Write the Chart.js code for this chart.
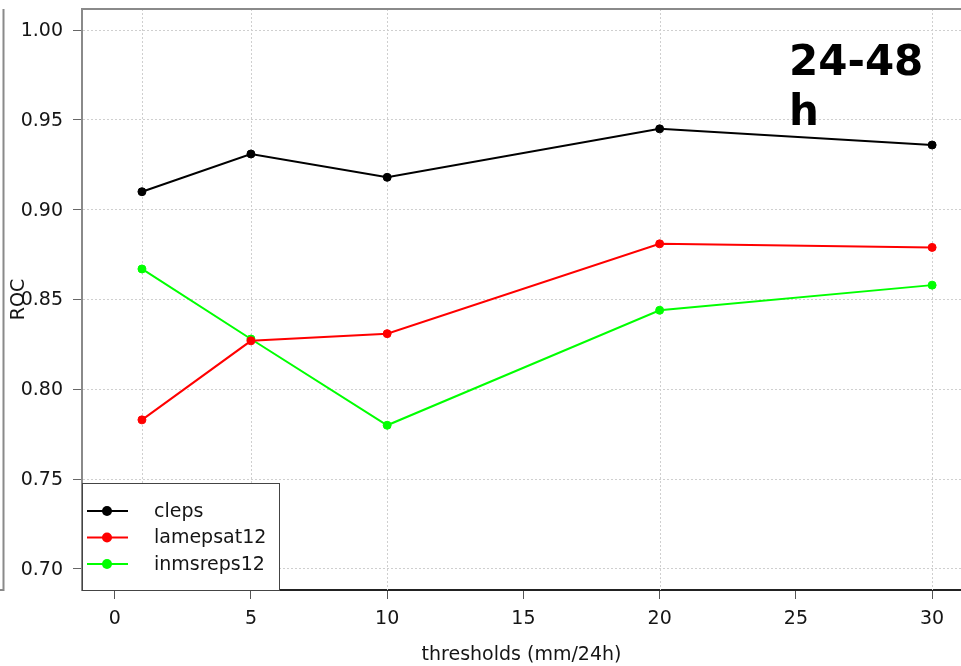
<!DOCTYPE html>
<html>
<head>
<meta charset="utf-8">
<title>ROC 24-48 h</title>
<script src="https://cdn.jsdelivr.net/npm/chart.js@4.4.1/dist/chart.umd.min.js"></script>
<style>
  html, body { margin: 0; padding: 0; background: #ffffff; overflow: hidden; }
  canvas { display: block; }
</style>
</head>
<body>
<canvas id="roc" width="961" height="666"></canvas>
<script>
// Precipitation thresholds (mm/24h) and ROC area per ensemble system
const thresholds = [1, 5, 10, 20, 30];
const cleps      = [0.910, 0.931, 0.918, 0.945, 0.936];
const lamepsat12 = [0.783, 0.827, 0.831, 0.881, 0.879];
const inmsreps12 = [0.867, 0.828, 0.780, 0.844, 0.858];

const seriesNames  = ['cleps', 'lamepsat12', 'inmsreps12'];
const seriesColors = ['#000000', '#ff0000', '#00ff00'];

const xTicks = [0, 5, 10, 15, 20, 25, 30];
const yTicks = [0.70, 0.75, 0.80, 0.85, 0.90, 0.95, 1.00];

const xTitle = 'thresholds (mm/24h)';
const yTitle = 'ROC';
const panelLabel = ['24-48', 'h'];

const FONT = 'DejaVu Sans';

const seriesValues = [cleps, lamepsat12, inmsreps12];
const datasets = seriesValues.map((vals, i) => ({
  label: seriesNames[i],
  data: thresholds.map((t, j) => ({ x: t, y: vals[j] })),
  borderColor: seriesColors[i],
  backgroundColor: seriesColors[i],
  pointBackgroundColor: seriesColors[i],
  pointBorderColor: seriesColors[i],
  borderWidth: 2,
  pointRadius: 4,
  pointBorderWidth: 1,
  tension: 0,
  fill: false
}));

// Dotted vertical guides at each threshold, plus the plot frame
const frameAndGuides = {
  id: 'frameAndGuides',
  beforeDatasetsDraw(chart) {
    const { ctx, chartArea: a, scales: { x } } = chart;
    ctx.save();
    ctx.strokeStyle = '#cfcfcf';
    ctx.lineWidth = 1;
    ctx.setLineDash([2, 2]);
    thresholds.forEach(t => {
      const px = Math.round(x.getPixelForValue(t)) + 0.5;
      ctx.beginPath();
      ctx.moveTo(px, a.top);
      ctx.lineTo(px, a.bottom);
      ctx.stroke();
    });
    ctx.setLineDash([]);
    // top edge of the box
    ctx.strokeStyle = '#8a8a8a';
    ctx.lineWidth = 2;
    ctx.beginPath();
    ctx.moveTo(a.left, a.top);
    ctx.lineTo(a.right, a.top);
    ctx.stroke();
    // edge of the neighbouring panel on the far left
    ctx.beginPath();
    ctx.moveTo(3.5, a.top);
    ctx.lineTo(3.5, a.bottom);
    ctx.lineTo(0, a.bottom);
    ctx.stroke();
    ctx.restore();
  }
};

// Legend box in the lower-left corner and the lead-time label
const boxLegend = {
  id: 'boxLegend',
  afterDraw(chart) {
    const { ctx, chartArea: a } = chart;
    ctx.save();
    const left = a.left, right = 279, top = 483, bottom = a.bottom;
    ctx.fillStyle = '#ffffff';
    ctx.fillRect(left, top, right - left, bottom - top);
    ctx.strokeStyle = '#444444';
    ctx.lineWidth = 1;
    ctx.strokeRect(left + 0.5, top + 0.5, right - left, bottom - top);

    const rows = [511, 537.5, 564];
    chart.data.datasets.forEach((ds, i) => {
      const y = rows[i];
      ctx.strokeStyle = ds.borderColor;
      ctx.lineWidth = 2;
      ctx.beginPath();
      ctx.moveTo(87, y);
      ctx.lineTo(128, y);
      ctx.stroke();
      ctx.fillStyle = ds.borderColor;
      ctx.beginPath();
      ctx.arc(107, y, 5, 0, Math.PI * 2);
      ctx.fill();
      ctx.fillStyle = '#151515';
      ctx.font = '19px "' + FONT + '"';
      ctx.textAlign = 'left';
      ctx.textBaseline = 'middle';
      ctx.fillText(ds.label, 154, y + 1);
    });

    ctx.fillStyle = '#000000';
    ctx.font = 'bold 42px "' + FONT + '"';
    ctx.textAlign = 'left';
    ctx.textBaseline = 'alphabetic';
    panelLabel.forEach((line, i) => ctx.fillText(line, 789, 75 + i * 50));
    ctx.restore();
  }
};

new Chart(document.getElementById('roc'), {
  type: 'line',
  data: { datasets },
  options: {
    responsive: false,
    animation: false,
    layout: { autoPadding: false, padding: { top: 9, right: 0, bottom: 0, left: 0 } },
    plugins: { legend: { display: false }, tooltip: { enabled: false } },
    scales: {
      x: {
        type: 'linear',
        min: -1.2,
        max: 31.06,
        afterBuildTicks(scale) { scale.ticks = xTicks.map(v => ({ value: v })); },
        afterFit(scale) {
          scale.height = 76;
          scale.paddingLeft = 0; scale.paddingRight = 0;
        },
        grid: {
          drawOnChartArea: false,
          drawTicks: true,
          tickLength: 9,
          tickColor: '#555555',
          tickWidth: 1
        },
        border: { display: true, color: '#222222', width: 2 },
        ticks: {
          font: { family: FONT, size: 19 },
          color: '#151515',
          padding: 9,
          maxRotation: 0,
          autoSkip: false,
          callback: v => String(v)
        },
        title: {
          display: true,
          text: xTitle,
          font: { family: FONT, size: 19 },
          color: '#151515',
          padding: { top: 0, bottom: 0 }
        }
      },
      y: {
        type: 'linear',
        min: 0.6883,
        max: 1.0117,
        afterBuildTicks(scale) { scale.ticks = yTicks.map(v => ({ value: v })); },
        afterFit(scale) {
          scale.width = 82;
          scale.paddingTop = 0; scale.paddingBottom = 0;
        },
        grid: {
          color: '#cfcfcf',
          lineWidth: 1,
          drawTicks: true,
          tickLength: 9,
          tickColor: '#666666',
          tickWidth: 1,
          tickBorderDash: []
        },
        border: { display: true, color: '#8a8a8a', width: 2, dash: [2, 2] },
        ticks: {
          font: { family: FONT, size: 19 },
          color: '#151515',
          padding: 10,
          labelOffset: 1,
          autoSkip: false,
          callback: v => v.toFixed(2)
        },
        title: {
          display: true,
          text: yTitle,
          font: { family: FONT, size: 19 },
          color: '#151515',
          padding: { top: 8, bottom: 0 }
        }
      }
    }
  },
  plugins: [frameAndGuides, boxLegend]
});
</script>
</body>
</html>
